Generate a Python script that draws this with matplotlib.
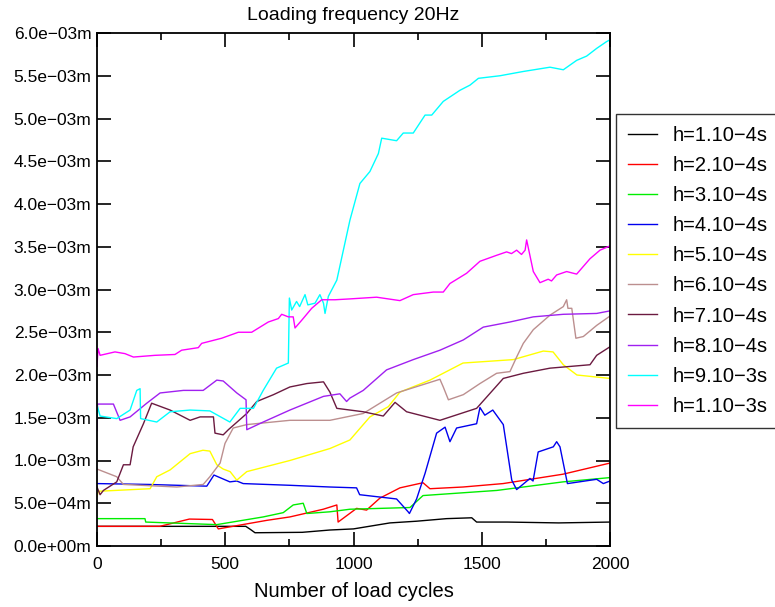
import matplotlib
matplotlib.use("Agg")
import matplotlib.pyplot as plt
from matplotlib.ticker import FixedLocator, FixedFormatter, MultipleLocator

plt.rcParams['font.family'] = ['Liberation Sans', 'DejaVu Sans']

# displacement values in 1e-3 m
x_h1 = [0, 580, 600, 616, 800, 908, 1000, 1142, 1246, 1363, 1461, 1480, 1600, 1800, 2000]
y_h1 = [0.23, 0.23, 0.19, 0.155, 0.16, 0.187, 0.20, 0.27, 0.29, 0.32, 0.33, 0.28, 0.28, 0.27, 0.28]

x_h2 = [0, 245, 360, 450, 473, 558, 662, 752, 882, 935, 940, 1012, 1051, 1103, 1181, 1271, 1298,
        1427, 1583, 1817, 2000]
y_h2 = [0.23, 0.23, 0.315, 0.31, 0.20, 0.245, 0.30, 0.34, 0.43, 0.48, 0.28, 0.44, 0.42, 0.56, 0.68,
        0.74, 0.67, 0.69, 0.73, 0.84, 0.97]

x_h3 = [0, 187, 190, 467, 648, 726, 765, 804, 818, 908, 986, 1220, 1271, 1559, 1817, 2000]
y_h3 = [0.32, 0.32, 0.28, 0.25, 0.34, 0.39, 0.48, 0.50, 0.38, 0.40, 0.43, 0.45, 0.59, 0.65, 0.75, 0.80]

x_h4 = [0, 200, 428, 456, 518, 545, 570, 752, 908, 1012, 1024, 1168, 1213, 1218, 1246, 1279, 1324,
        1357, 1376, 1402, 1480, 1493, 1512, 1543, 1584, 1617, 1636, 1688, 1700, 1720, 1779, 1792,
        1805, 1834, 1948, 1974, 2000]
y_h4 = [0.73, 0.72, 0.70, 0.83, 0.75, 0.76, 0.73, 0.71, 0.69, 0.68, 0.60, 0.55, 0.40, 0.38, 0.55,
        0.85, 1.32, 1.39, 1.22, 1.38, 1.43, 1.62, 1.53, 1.59, 1.42, 0.77, 0.66, 0.79, 0.76, 1.10,
        1.16, 1.22, 1.16, 0.73, 0.78, 0.73, 0.76]

x_h5 = [0, 5, 207, 233, 285, 363, 413, 440, 467, 492, 519, 545, 584, 752, 908, 986, 1064, 1136,
        1181, 1298, 1427, 1623, 1740, 1778, 1818, 1871, 2000]
y_h5 = [0.58, 0.64, 0.67, 0.81, 0.89, 1.08, 1.12, 1.11, 0.95, 0.90, 0.87, 0.77, 0.87, 1.00, 1.14,
        1.24, 1.51, 1.63, 1.80, 1.94, 2.14, 2.18, 2.28, 2.27, 2.12, 2.00, 1.96]

x_h6 = [0, 77, 103, 311, 414, 440, 480, 499, 531, 584, 752, 908, 1038, 1168, 1337, 1350, 1370,
        1428, 1493, 1558, 1610, 1636, 1662, 1701, 1766, 1818, 1831, 1836, 1851, 1867, 1896, 1948,
        2000]
y_h6 = [0.90, 0.81, 0.72, 0.69, 0.72, 0.81, 0.97, 1.20, 1.38, 1.42, 1.47, 1.47, 1.55, 1.79, 1.95,
        1.86, 1.71, 1.77, 1.90, 2.02, 2.04, 2.21, 2.37, 2.53, 2.70, 2.80, 2.88, 2.78, 2.78, 2.43,
        2.45, 2.58, 2.69]

x_h7 = [0, 12, 25, 77, 103, 129, 141, 181, 213, 285, 337, 363, 402, 454, 460, 492, 512, 531, 584,
        623, 688, 752, 818, 883, 908, 935, 1038, 1116, 1162, 1207, 1337, 1480, 1584, 1662, 1766,
        1922, 1948, 2000]
y_h7 = [0.69, 0.60, 0.65, 0.75, 0.95, 0.95, 1.16, 1.43, 1.67, 1.59, 1.51, 1.47, 1.51, 1.51, 1.32,
        1.30, 1.36, 1.41, 1.55, 1.69, 1.77, 1.86, 1.90, 1.92, 1.80, 1.61, 1.57, 1.52, 1.68, 1.57,
        1.47, 1.61, 1.96, 2.02, 2.08, 2.12, 2.23, 2.33]

x_h8 = [0, 2, 64, 90, 129, 194, 246, 337, 414, 467, 492, 545, 581, 584, 648, 752, 883, 947, 973,
        986, 1038, 1129, 1233, 1337, 1428, 1506, 1610, 1701, 1818, 1948, 2000]
y_h8 = [1.35, 1.66, 1.66, 1.47, 1.51, 1.67, 1.79, 1.82, 1.82, 1.94, 1.93, 1.79, 1.71, 1.36, 1.45,
        1.59, 1.75, 1.78, 1.69, 1.73, 1.82, 2.06, 2.18, 2.29, 2.41, 2.56, 2.62, 2.68, 2.71, 2.72, 2.75]

x_h9 = [0, 2, 12, 77, 129, 155, 168, 170, 233, 285, 363, 440, 518, 558, 610, 648, 700, 746, 750,
        759, 778, 790, 811, 822, 850, 869, 883, 889, 902, 935, 986, 1025, 1064, 1097, 1110,
        1168, 1194, 1233, 1279, 1305, 1350, 1415, 1454, 1487, 1571, 1662, 1766, 1818, 1870, 1909,
        1948, 1987, 2000]
y_h9 = [1.50, 1.63, 1.52, 1.49, 1.59, 1.82, 1.84, 1.49, 1.45, 1.57, 1.59, 1.58, 1.45, 1.61, 1.61,
        1.82, 2.08, 2.14, 2.90, 2.76, 2.86, 2.80, 2.94, 2.82, 2.84, 2.94, 2.84, 2.72, 2.92,
        3.11, 3.81, 4.24, 4.38, 4.59, 4.77, 4.74, 4.83, 4.83, 5.04, 5.04, 5.20, 5.33, 5.39, 5.47,
        5.50, 5.55, 5.60, 5.57, 5.68, 5.73, 5.82, 5.90, 5.92]

x_h10 = [0, 4, 12, 70, 109, 142, 226, 304, 330, 395, 408, 486, 551, 603, 668, 707, 720, 746, 765,
         772, 798, 837, 876, 928, 986, 1090, 1181, 1233, 1311, 1350, 1376, 1441, 1493, 1558, 1597,
         1616, 1636, 1655, 1669, 1675, 1701, 1727, 1759, 1772, 1792, 1831, 1870, 1922, 1961, 2000]
y_h10 = [2.10, 2.31, 2.23, 2.27, 2.25, 2.21, 2.23, 2.24, 2.29, 2.32, 2.37, 2.43, 2.50, 2.50, 2.62,
         2.66, 2.71, 2.68, 2.68, 2.55, 2.64, 2.78, 2.88, 2.88, 2.89, 2.91, 2.87, 2.94, 2.97, 2.97,
         3.07, 3.19, 3.33, 3.40, 3.44, 3.42, 3.46, 3.41, 3.46, 3.58, 3.21, 3.08, 3.12, 3.10, 3.17,
         3.21, 3.18, 3.36, 3.46, 3.51]

labels = ['h=1.10\u22124s', 'h=2.10\u22124s', 'h=3.10\u22124s', 'h=4.10\u22124s', 'h=5.10\u22124s',
          'h=6.10\u22124s', 'h=7.10\u22124s', 'h=8.10\u22124s', 'h=9.10\u22123s', 'h=1.10\u22123s']
colors = ['black', 'red', '#00ee00', '#0000ee', '#ffff00', '#bc8f8f', '#6b1a40', '#a020f0',
          '#00ffff', '#ff00ff']

series = [(x_h1, y_h1), (x_h2, y_h2), (x_h3, y_h3), (x_h4, y_h4), (x_h5, y_h5),
          (x_h6, y_h6), (x_h7, y_h7), (x_h8, y_h8), (x_h9, y_h9), (x_h10, y_h10)]

ytick_vals = [i * 0.5e-3 for i in range(13)]
ytick_labels = ['0.0e+00m', '5.0e\u221204m', '1.0e\u221203m', '1.5e\u221203m', '2.0e\u221203m',
                '2.5e\u221203m', '3.0e\u221203m', '3.5e\u221203m', '4.0e\u221203m', '4.5e\u221203m',
                '5.0e\u221203m', '5.5e\u221203m', '6.0e\u221203m']

fig = plt.figure(figsize=(7.75, 6.07), dpi=100)
ax = fig.add_axes([97 / 775, 1 - 546 / 607, 513 / 775, 513 / 607])

for (xs, ys), c, lab in zip(series, colors, labels):
    ax.plot(xs, [v * 1e-3 for v in ys], color=c, lw=1.0, label=lab)

ax.set_xlim(0, 2000)
ax.set_ylim(0, 6e-3)
ax.xaxis.set_major_locator(MultipleLocator(500))
ax.xaxis.set_minor_locator(MultipleLocator(250))
ax.yaxis.set_major_locator(FixedLocator(ytick_vals))
ax.yaxis.set_major_formatter(FixedFormatter(ytick_labels))
ax.tick_params(which='both', direction='in', top=True, right=True, labelsize=12.5, width=1.2)
ax.tick_params(which='major', length=10)
ax.tick_params(which='minor', length=5)
ax.tick_params(axis='x', pad=8)
ax.tick_params(axis='y', pad=4)
for sp in ax.spines.values():
    sp.set_linewidth(1.3)

ax.set_title('Loading frequency 20Hz', fontsize=14, pad=9.5)
ax.set_xlabel('Number of load cycles', fontsize=14.5, labelpad=7)

leg = fig.legend(loc='upper left', bbox_to_anchor=(616 / 775, 1 - 114 / 607), fontsize=14.5,
                 frameon=True, fancybox=False, edgecolor='black', handlelength=1.45,
                 labelspacing=0.55, borderpad=0.6, handletextpad=0.75, borderaxespad=0)
leg.get_frame().set_linewidth(1.0)

fig.savefig('out.png', dpi=100)
